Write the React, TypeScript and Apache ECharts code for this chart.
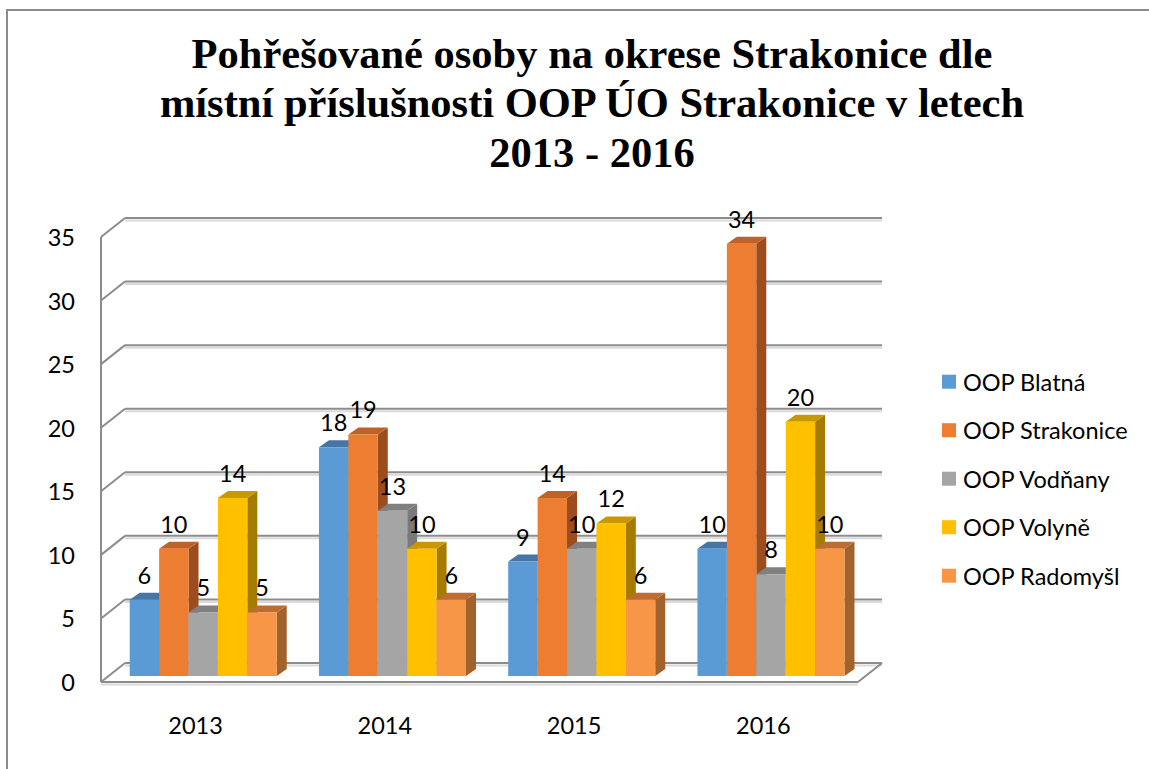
import React, { useEffect, useRef } from "react";
import * as echarts from "echarts";

const categories = ["2013", "2014", "2015", "2016"];
const seriesNames = ["OOP Blatná", "OOP Strakonice", "OOP Vodňany", "OOP Volyně", "OOP Radomyšl"];
const blatna = [6, 18, 9, 10];
const strakonice = [10, 19, 14, 34];
const vodnany = [5, 13, 10, 8];
const volyne = [14, 10, 12, 20];
const radomysl = [5, 6, 6, 10];
const yTicks = [0, 5, 10, 15, 20, 25, 30, 35];
const titleLines = [
  "Pohřešované osoby na okrese Strakonice dle",
  "místní příslušnosti OOP ÚO Strakonice v letech",
  "2013 - 2016",
];

const allValues = [blatna, strakonice, vodnany, volyne, radomysl];

const FRONT = ["#5B9BD5", "#ED7D31", "#A5A5A5", "#FFC000", "#F79646"];
const TOP = ["#4676A6", "#BE6228", "#808080", "#C99700", "#BC6D34"];
const SIDE = ["#3F6C98", "#9C4C1D", "#7A7A7A", "#A67C00", "#A2622C"];

const WALL_DX = 24;
const WALL_DY = -19;
const SHIFT_X = 7.6;
const SHIFT_Y = -6;
const BAR_DX = 10;
const BAR_DY = -7;
const GROUP_FRAC = 0.777;
const LINE = "#8c8c8c";
const SHADOW = "#dadada";
const FONT = "Lato";

function barGeom(api: any, si: number, cat: number, v: number) {
  const [cx, cy] = api.coord([cat, v]);
  const [, y0] = api.coord([cat, 0]);
  const band = api.size([1, 0])[0];
  const gw = band * GROUP_FRAC;
  const bw = gw / 5;
  const x = cx - gw / 2 + si * bw + SHIFT_X;
  return { x, bw, yt: cy + SHIFT_Y, yb: y0 + SHIFT_Y };
}

function line(x1: number, y1: number, x2: number, y2: number, color: string) {
  return {
    type: "line",
    shape: { x1, y1, x2, y2 },
    style: { stroke: color, lineWidth: 2 },
    silent: true,
  };
}

export default function App() {
  const ref = useRef<HTMLDivElement>(null);

  useEffect(() => {
    if (!ref.current) return;
    const chart = echarts.init(ref.current, undefined, { renderer: "svg" });

    const frameSeries = {
      type: "custom",
      name: "frame",
      silent: true,
      clip: false,
      z: 1,
      encode: { x: 0, y: 1 },
      data: yTicks.map((v) => [0, v]),
      renderItem: (params: any, api: any) => {
        const cs = params.coordSys;
        const v = api.value(1);
        const [, y] = api.coord([0, v]);
        const xl = cs.x;
        const xr = cs.x + cs.width;
        const children: any[] = [];
        children.push(line(xl + WALL_DX, y + WALL_DY + 2.5, xr + WALL_DX, y + WALL_DY + 2.5, SHADOW));
        children.push(line(xl + WALL_DX, y + WALL_DY, xr + WALL_DX, y + WALL_DY, LINE));
        children.push(line(xl, y, xl + WALL_DX, y + WALL_DY, LINE));
        if (v === yTicks[0]) {
          const [, yTop] = api.coord([0, yTicks[yTicks.length - 1]]);
          children.push(line(xl, y + 2.5, xr, y + 2.5, SHADOW));
          children.push(line(xl, y, xr, y, LINE));
          children.push(line(xr, y, xr + WALL_DX, y + WALL_DY, LINE));
          children.push(line(xl, yTop, xl, y, LINE));
        }
        return { type: "group", children };
      },
    };

    const barSeries = allValues.map((vals, si) => ({
      type: "custom",
      name: seriesNames[si],
      clip: false,
      z: 2,
      itemStyle: { color: FRONT[si] },
      encode: { x: 0, y: 1 },
      data: vals.map((v, i) => [i, v]),
      renderItem: (params: any, api: any) => {
        const cat = api.value(0);
        const v = api.value(1);
        const { x, bw, yt, yb } = barGeom(api, si, cat, v);
        return {
          type: "group",
          children: [
            {
              type: "polygon",
              shape: {
                points: [
                  [x + bw, yt],
                  [x + bw + BAR_DX, yt + BAR_DY],
                  [x + bw + BAR_DX, yb + BAR_DY],
                  [x + bw, yb],
                ],
              },
              style: { fill: SIDE[si] },
            },
            {
              type: "polygon",
              shape: {
                points: [
                  [x, yt],
                  [x + BAR_DX, yt + BAR_DY],
                  [x + bw + BAR_DX, yt + BAR_DY],
                  [x + bw, yt],
                ],
              },
              style: { fill: TOP[si] },
            },
            {
              type: "rect",
              shape: { x, y: yt, width: bw, height: yb - yt },
              style: { fill: FRONT[si] },
            },
          ],
        };
      },
    }));

    const labelData: number[][] = [];
    allValues.forEach((vals, si) => vals.forEach((v, i) => labelData.push([i, si, v])));

    const labelSeries = {
      type: "custom",
      name: "labels",
      silent: true,
      clip: false,
      z: 5,
      encode: { x: 0, y: 2 },
      data: labelData,
      renderItem: (params: any, api: any) => {
        const cat = api.value(0);
        const si = api.value(1);
        const v = api.value(2);
        const { x, bw, yt } = barGeom(api, si, cat, v);
        return {
          type: "text",
          x: x + bw / 2,
          y: yt - 25,
          style: {
            text: String(v),
            fill: "#000",
            fontFamily: FONT,
            fontSize: 23.5,
            align: "center",
            verticalAlign: "middle",
          },
        };
      },
    };

    chart.setOption({
      animation: false,
      backgroundColor: "#ffffff",
      grid: { left: 101, top: 237, right: 291, bottom: 87 },
      xAxis: {
        type: "category",
        data: categories,
        axisLine: { show: false },
        axisTick: { show: false },
        splitLine: { show: false },
        axisLabel: { fontFamily: FONT, fontSize: 23.5, color: "#000", margin: 31 },
      },
      yAxis: {
        type: "value",
        min: 0,
        max: 35,
        interval: 5,
        axisLine: { show: false },
        axisTick: { show: false },
        splitLine: { show: false },
        axisLabel: { fontFamily: FONT, fontSize: 23.5, color: "#000", margin: 26 },
      },
      legend: {
        orient: "vertical",
        left: 942,
        top: 369.7,
        padding: 0,
        itemWidth: 14,
        itemHeight: 14,
        itemGap: 24.5,
        icon: "rect",
        selectedMode: false,
        data: seriesNames,
        textStyle: { fontFamily: FONT, fontSize: 23.5, color: "#000", lineHeight: 24, padding: [0, 0, 0, 2] },
      },
      graphic: [
        {
          type: "rect",
          z: -10,
          silent: true,
          shape: { x: 7, y: 10, width: 1170, height: 800 },
          style: { fill: "none", stroke: LINE, lineWidth: 2 },
        },
        ...titleLines.map((t, i) => ({
          type: "text",
          x: 592,
          y: 53 + i * 49.8,
          silent: true,
          style: {
            text: t,
            fill: "#000",
            fontFamily: "Liberation Serif",
            fontWeight: "bold",
            fontSize: 42.5,
            align: "center",
            verticalAlign: "middle",
          },
        })),
      ],
      series: [frameSeries, ...barSeries, labelSeries],
    });

    return () => chart.dispose();
  }, []);

  return (
    <div
      ref={ref}
      style={{ position: "absolute", left: 0, top: 0, width: 1149, height: 769 }}
    />
  );
}
